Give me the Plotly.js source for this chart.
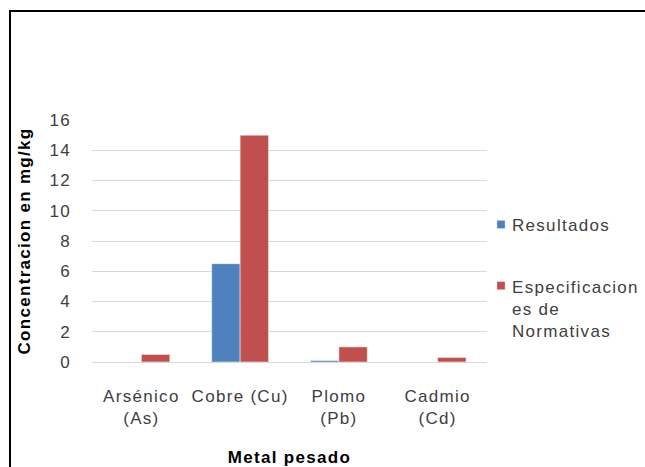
<!DOCTYPE html>
<html>
<head>
<meta charset="utf-8">
<script src="https://cdn.plot.ly/plotly-3.0.1.min.js"></script>
<style>
  html, body { margin: 0; padding: 0; background: #ffffff; }
  #wrap { position: relative; width: 645px; height: 467px; overflow: hidden; }
  #chart { position: absolute; left: 0; top: 0; width: 645px; height: 467px; }
  #chart text { letter-spacing: 1.3px; }
  /* let the wrapped legend label run to the page edge */
  #chart .legend .scrollbox { clip-path: none !important; }
  /* smaller legend swatches, placed closer to their labels */
  #chart .legendpoints path { transform: translate(29px, 0px) scale(0.68); }
  /* the three-line entry keeps its swatch beside the first line */
  #chart .legend .groups:nth-child(2) .legendpoints path { transform: translate(29px, -23px) scale(0.68); }
  /* frame drawn around the chart area (top and left edges are visible) */
  #frame { position: absolute; left: 9px; top: 10px; width: 700px; height: 500px;
           border-top: 2px solid #000; border-left: 2px solid #000; pointer-events: none; }
</style>
</head>
<body>
<div id="wrap">
  <div id="chart"></div>
  <div id="frame"></div>
</div>
<script>
// Concentración de metales pesados (mg/kg)
const categories = ["Arsénico<br>(As)", "Cobre (Cu)", "Plomo<br>(Pb)", "Cadmio<br>(Cd)"];
const resultados = [0, 6.5, 0.1, 0];
const especificaciones = [0.5, 15, 1, 0.3];
const seriesNames = ["Resultados", "Especificacion<br>es de<br>Normativas"];
const yTicks = [0, 2, 4, 6, 8, 10, 12, 14, 16];

const FONT = "Liberation Sans, Arial, sans-serif";

const traces = [
  {
    type: "bar",
    name: seriesNames[0],
    x: categories,
    y: resultados,
    legendgroup: "a",
    marker: { color: "#4F81BD", line: { color: "#ffffff", width: 0.5 } },
    hoverinfo: "x+y"
  },
  {
    type: "bar",
    name: seriesNames[1],
    x: categories,
    y: especificaciones,
    legendgroup: "b",
    marker: { color: "#C0504D", line: { color: "#ffffff", width: 0.5 } },
    hoverinfo: "x+y"
  }
];

const layout = {
  width: 645,
  height: 467,
  margin: { l: 92, r: 158, t: 120, b: 105, pad: 0 },
  paper_bgcolor: "#ffffff",
  plot_bgcolor: "#ffffff",
  font: { family: FONT, size: 17, color: "#404040" },
  barmode: "group",
  bargap: 0.424,
  bargroupgap: 0,
  showlegend: true,
  legend: {
    x: 0.962, xanchor: "left",
    y: 0.641, yanchor: "top",
    bgcolor: "rgba(0,0,0,0)",
    font: { family: FONT, size: 17, color: "#404040" },
    tracegroupgap: 37,
    itemclick: false
  },
  xaxis: {
    type: "category",
    tickvals: categories,
    ticktext: categories,
    showgrid: false,
    showline: false,
    zeroline: false,
    ticks: "",
    ticklabelstandoff: 22,
    tickfont: { family: FONT, size: 17, color: "#404040" },
    automargin: false,
    title: {
      text: "Metal pesado",
      font: { family: FONT, size: 17, color: "#000000", weight: "bold" },
      standoff: 29
    }
  },
  yaxis: {
    range: [0, 16],
    tickvals: yTicks,
    ticktext: yTicks.map(String),
    showgrid: true,
    gridcolor: "#d9d9d9",
    gridwidth: 1,
    zeroline: true,
    zerolinecolor: "#d9d9d9",
    zerolinewidth: 1,
    showline: false,
    ticks: "",
    ticklabelstandoff: 20,
    tickfont: { family: FONT, size: 17, color: "#404040" },
    automargin: false,
    title: {
      text: "Concentracion en mg/kg",
      font: { family: FONT, size: 17, color: "#000000", weight: "bold" },
      standoff: 17
    }
  }
};

Plotly.newPlot("chart", traces, layout, { displayModeBar: false, staticPlot: true });
</script>
</body>
</html>
